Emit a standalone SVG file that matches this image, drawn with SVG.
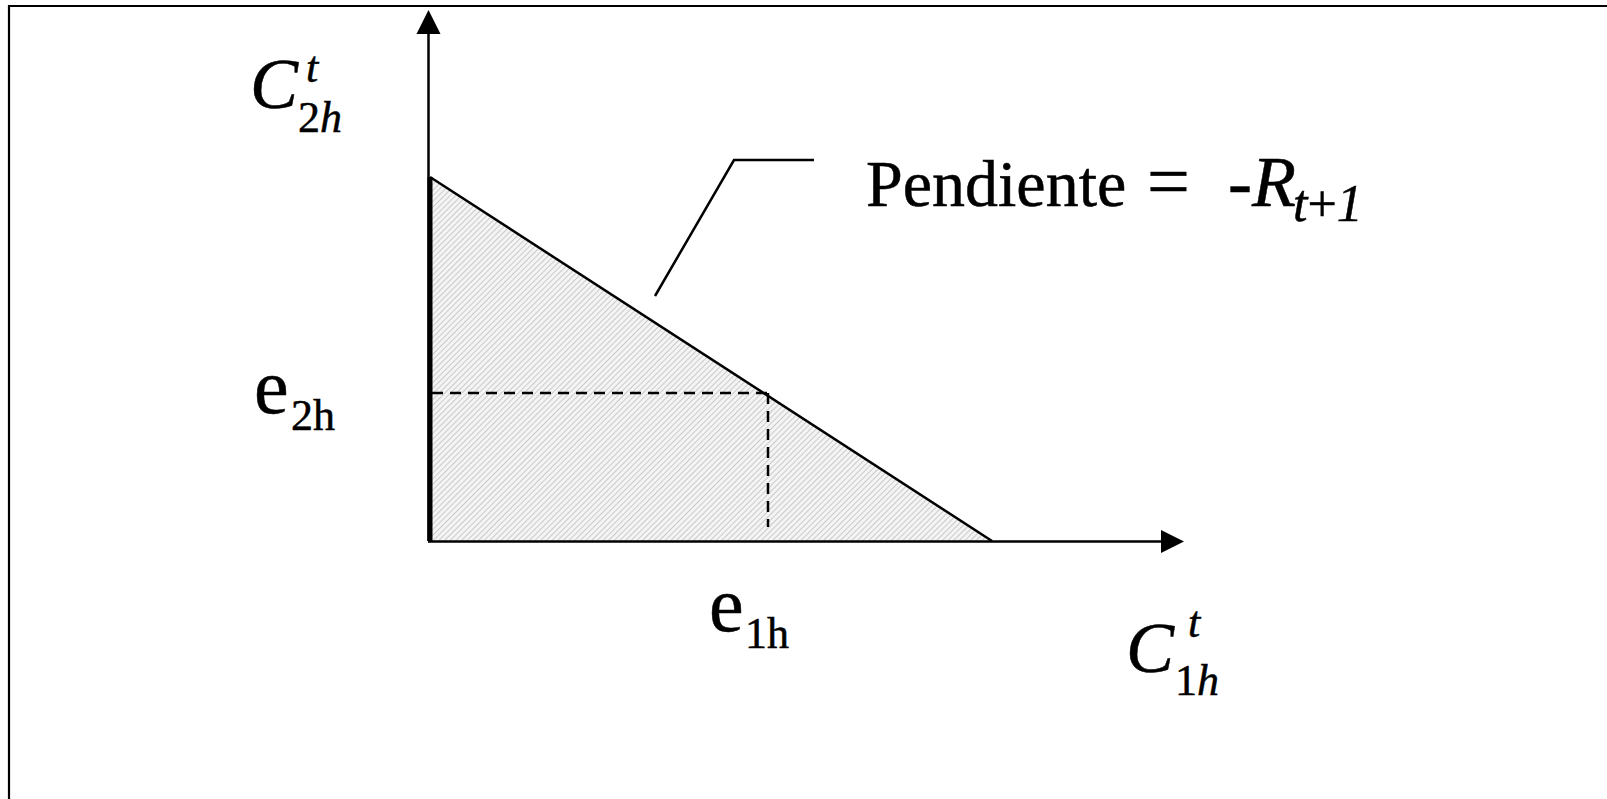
<svg xmlns="http://www.w3.org/2000/svg" width="1607" height="799" viewBox="0 0 1607 799">
<style>
.ln{stroke:#000;fill:none;stroke-width:2.5}
.t{font-family:"Liberation Serif","Times New Roman",serif;fill:#000;stroke:#000;stroke-width:0.5}
.big{font-size:72px}
.e{font-size:78px}
.sm{font-size:44px}
.it{font-style:italic}
</style>
<defs>
<pattern id="hatch" width="4" height="4" patternUnits="userSpaceOnUse" patternTransform="rotate(45)">
<rect width="4" height="4" fill="#f4f4f4"/>
<line x1="0" y1="0" x2="0" y2="4" stroke="#b8b8b8" stroke-width="1.4"/>
</pattern>
</defs>
<rect width="1607" height="799" fill="#fff"/>
<g id="frame">
<line x1="8" y1="6" x2="1607" y2="6" stroke="#000" stroke-width="2.2"/>
<line x1="9" y1="5" x2="9" y2="799" stroke="#000" stroke-width="2.2"/>
</g>
<g id="region">
<polygon points="430,177 430,541 992,541" fill="url(#hatch)"/>
<line class="ln" x1="430" y1="177" x2="992" y2="541"/>
<line x1="430" y1="177" x2="430" y2="541" stroke="#000" stroke-width="5"/>
</g>
<g id="connectors">
<line class="ln" x1="428.5" y1="541" x2="428.5" y2="30"/>
<polygon points="428.5,10 416.5,34 440.5,34" fill="#000"/>
<line class="ln" x1="428" y1="541.5" x2="1165" y2="541.5" stroke-width="3"/>
<polygon points="1184,541.5 1161,530 1161,553" fill="#000"/>
<line class="ln" x1="432" y1="393" x2="768" y2="393" stroke-dasharray="11 7"/>
<line class="ln" x1="768" y1="393" x2="768" y2="527" stroke-dasharray="11 7"/>
<polyline class="ln" points="655,296 734,160 814,160"/>
</g>
<g id="label-c2h">
<text class="t big it" x="250" y="108">C</text>
<text class="t sm it" x="306" y="82">t</text>
<text class="t sm" x="298" y="132">2<tspan class="it">h</tspan></text>
</g>
<g id="label-e2h">
<text class="t e" x="254" y="413">e</text>
<text class="t sm" x="291" y="430">2h</text>
</g>
<g id="label-e1h">
<text class="t e" x="709" y="631">e</text>
<text class="t sm" x="745" y="648">1h</text>
</g>
<g id="label-c1h">
<text class="t big it" x="1126" y="672">C</text>
<text class="t sm it" x="1188" y="637">t</text>
<text class="t sm" x="1175" y="695">1<tspan class="it">h</tspan></text>
</g>
<g id="label-slope">
<text class="t" font-size="66" x="866" y="206">Pendiente</text>
<text class="t" font-size="76" x="1147" y="207">=</text>
<text class="t" font-size="72" x="1228" y="206">-<tspan class="it">R</tspan></text>
<text class="t" font-size="52" x="1293" y="221"><tspan class="it">t</tspan>+<tspan class="it">1</tspan></text>
</g>
</svg>
